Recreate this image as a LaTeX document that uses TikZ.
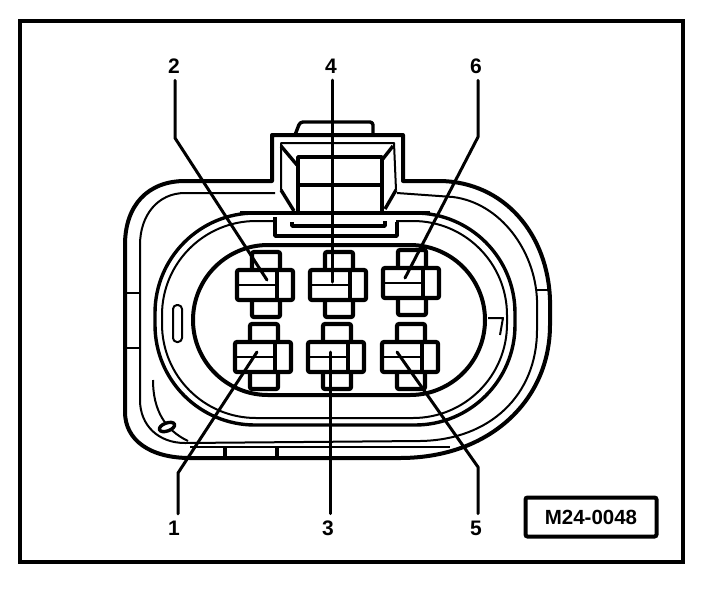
\documentclass[tikz,border=0pt]{standalone}
\usepackage{fontspec}
\setmainfont{Liberation Sans}
\tikzset{
  frameline/.style={line width=4pt,line join=miter},
  housing/.style={line width=4pt,line join=round},
  thick line/.style={line width=3.4pt,line join=round},
  thin line/.style={line width=2pt,line join=round},
  pinbox/.style={line width=4.2pt,fill=white,rounded corners=2pt},
  leader/.style={line width=3pt,line join=round,line cap=round},
  numlabel/.style={font=\bfseries\fontsize{21}{21}\selectfont,inner sep=0pt,outer sep=7pt},
  codebox/.style={draw,line width=4pt,rounded corners=2pt,minimum width=131pt,minimum height=39pt,inner sep=0pt,font=\bfseries\fontsize{20.5}{21}\selectfont}
}
\newcommand{\pinshape}[2]{%
  \begin{scope}[shift={(#1,#2)}]
    \draw[pinbox] (15,-18) rectangle (43,47);
    \draw[pinbox] (0,0) rectangle (56,30);
    \draw[thin line] (0,15) -- (41,15);
    \draw[thick line] (40,0) -- (40,30);
  \end{scope}}
\begin{document}
\begin{tikzpicture}[x=1pt,y=-1pt]
\useasboundingbox (0,0) rectangle (704,598);
\fill[white] (0,0) rectangle (704,598);
\draw[frameline] (20,21) rectangle (683,562);
% housing outline
\draw[housing] (272,135) -- (272,181) -- (185,181)
  .. controls (148,181) and (125,205) .. (125,245) -- (125,412)
  .. controls (125,440) and (150,458) .. (190,458) -- (400,458)
  .. controls (490,458) and (550,400) .. (550,325) -- (550,300)
  .. controls (548,235) and (505,182) .. (440,181) -- (403,181) -- (403,135) -- cycle;
% second housing line
\draw[thin line] (275,193) -- (185,193)
  .. controls (158,193) and (140,215) .. (140,245) -- (140,400)
  .. controls (140,425) and (158,443) .. (185,443) -- (420,441)
  .. controls (490,440) and (537,395) .. (537,330) -- (537,300)
  .. controls (535,250) and (500,203) .. (453,197) -- (397,193);
% ticks on the housing
\draw[thin line] (125,293) -- (140,293);
\draw[thin line] (125,348) -- (140,348);
\draw[thin line] (537,290) -- (550,290);
\draw[thin line] (190,447) -- (450,447);
\draw[thick line] (225,447) -- (225,458);
\draw[thick line] (277,447) -- (277,458);
% lower-left inner curve and oval
\draw[thin line] (153,380) .. controls (153,410) and (165,430) .. (188,441);
\draw[thick line,fill=white,rotate around={20:(167,427)}] (167,427) ellipse (8 and 4);
% seal rings
\draw[thick line,rounded corners=100pt] (155,213) rectangle (515,425);
\draw[thin line,rounded corners=94pt] (162,221) rectangle (507,418);
\draw[housing,rounded corners=75pt] (193,245) rectangle (485,395);
% slot and notch
\draw[thin line,rounded corners=4pt] (173,305) rectangle (182,342);
\draw[thin line] (488,318) -- (503,318) -- (500,335);
% latch
\fill[white] (277,213) rectangle (396,236);
\draw[thick line,rounded corners=3pt] (295,135) -- (300,122) -- (373,122) -- (373,135);
\draw[thin line] (281,190) -- (281,143) -- (394,143) -- (396,190);
\draw[thick line] (298,213) -- (298,157) -- (382,157) -- (382,213);
\draw[thick line] (281,146) -- (297,165);
\draw[thick line] (393,146) -- (382,160);
\draw[thick line] (298,185) -- (382,185);
\draw[thick line] (281,190) -- (294,211);
\draw[thick line] (396,190) -- (385,209);
\draw[housing] (240,213) -- (430,213);
\draw[thick line] (275,217) -- (275,236) -- (397,236) -- (397,222);
\draw[thick line] (292,222) -- (292,226) -- (385,226) -- (385,221);
% terminals
\pinshape{237}{270}
\pinshape{310}{270}
\pinshape{383}{268}
\pinshape{235}{342}
\pinshape{308}{342}
\pinshape{382}{342}
% labels
\node[numlabel] (n2) at (174,66) {2};
\node[numlabel] (n4) at (331,66) {4};
\node[numlabel] (n6) at (476,66) {6};
\node[numlabel] (n1) at (174,528) {1};
\node[numlabel] (n3) at (328,528) {3};
\node[numlabel] (n5) at (476,528) {5};
% leader end points
\coordinate (b2) at (175,138);
\coordinate (t2) at (267,280);
\coordinate (t4) at (332,282);
\coordinate (b6) at (478,137);
\coordinate (t6) at (405,278);
\coordinate (b1) at (178,473);
\coordinate (t1) at (257,352);
\coordinate (t3) at (330,352);
\coordinate (b5) at (478,467);
\coordinate (t5) at (397,352);
\draw[leader] (n2.south -| b2) -- (b2) -- (t2);
\draw[leader] (n4.south -| t4) -- (t4);
\draw[leader] (n6.south -| b6) -- (b6) -- (t6);
\draw[leader] (n1.north -| b1) -- (b1) -- (t1);
\draw[leader] (n3.north -| t3) -- (t3);
\draw[leader] (n5.north -| b5) -- (b5) -- (t5);
% code box
\node[codebox] (code) at (591,517) {M24-0048};
\end{tikzpicture}
\end{document}
